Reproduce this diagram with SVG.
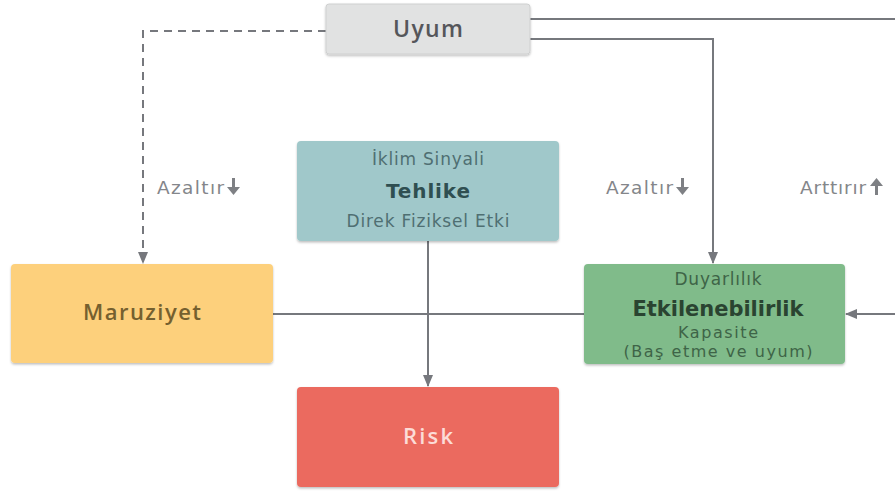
<svg xmlns="http://www.w3.org/2000/svg" width="895" height="492" viewBox="0 0 895 492">
<style>
.t{font-family:"DejaVu Sans","Open Sans",sans-serif;text-anchor:middle}
.s{font-family:"Open Sans","DejaVu Sans",sans-serif;text-anchor:middle;font-weight:600}
.lbl{font-family:"DejaVu Sans","Open Sans",sans-serif;font-size:18.5px;fill:#84868a;font-weight:400}
.ln{fill:none;stroke:#76787d;stroke-width:2}
</style>
<defs>
<filter id="sh" x="-5%" y="-5%" width="110%" height="115%">
<feDropShadow dx="0" dy="1.5" stdDeviation="1.2" flood-color="#000" flood-opacity="0.25"/>
</filter>
<marker id="ah" markerWidth="12" markerHeight="10" refX="11" refY="5" orient="auto" markerUnits="userSpaceOnUse">
<path d="M0,0 L12,5 L0,10 Z" fill="#76787d"/>
</marker>
</defs>
<rect width="895" height="492" fill="#ffffff"/>
<g id="connectors">
<path class="ln" d="M530,19 H895"/>
<path class="ln" d="M530,39 H713 V263" marker-end="url(#ah)"/>
<path class="ln" d="M326,31 H143 V263" stroke-dasharray="8,6" marker-end="url(#ah)"/>
<path class="ln" d="M428,241 V386" marker-end="url(#ah)"/>
<path class="ln" d="M273,314 H584"/>
<path class="ln" d="M895,314 H846" marker-end="url(#ah)"/>
</g>
<g id="labels">
<text class="lbl" x="157" y="194" textLength="67">Azaltır</text>
<path d="M232,178 h3 v9 h5 l-6.5,8 l-6.5,-8 h5 z" fill="#7e8084"/>
<text class="lbl" x="606" y="194" textLength="67">Azaltır</text>
<path d="M681,178 h3 v9 h5 l-6.5,8 l-6.5,-8 h5 z" fill="#7e8084"/>
<text class="lbl" x="800" y="194" textLength="66">Arttırır</text>
<path d="M875,195 h3 v-9 h5 l-6.5,-8 l-6.5,8 h5 z" fill="#7e8084"/>
</g>
<g id="uyum">
<rect x="326" y="4" width="204" height="50" rx="3" fill="#e1e2e2" stroke="#cfd0d0" stroke-width="1" filter="url(#sh)"/>
<text class="s" x="428" y="37" font-size="23" fill="#55565a" textLength="70">Uyum</text>
</g>
<g id="tehlike">
<rect x="297" y="141" width="262" height="100" rx="4" fill="#a0c8ca" filter="url(#sh)"/>
<text class="t" x="428" y="165" font-size="17" fill="#4f6f72" textLength="112">İklim Sinyali</text>
<text class="t" x="428" y="198" font-size="20" font-weight="700" fill="#2f4f51" textLength="84">Tehlike</text>
<text class="t" x="428" y="227" font-size="17" fill="#4f6f72" textLength="163">Direk Fiziksel Etki</text>
</g>
<g id="maruziyet">
<rect x="11" y="264" width="262" height="99" rx="4" fill="#fdd07c" filter="url(#sh)"/>
<text class="s" x="142" y="320" font-size="22" fill="#75602f" textLength="118">Maruziyet</text>
</g>
<g id="etkilenebilirlik">
<rect x="584" y="264" width="261" height="100" rx="4" fill="#80bb8a" filter="url(#sh)"/>
<text class="t" x="718" y="285" font-size="17" fill="#3e6447" textLength="87">Duyarlılık</text>
<text class="t" x="718" y="316" font-size="21" font-weight="700" fill="#2a4431" textLength="171">Etkilenebilirlik</text>
<text class="t" x="718" y="338" font-size="16" fill="#3e6447" textLength="80">Kapasite</text>
<text class="t" x="718" y="357" font-size="16" fill="#3e6447" textLength="189">(Baş etme ve uyum)</text>
</g>
<g id="risk">
<rect x="297" y="387" width="262" height="100" rx="4" fill="#eb6a5e" filter="url(#sh)"/>
<text class="s" x="428" y="444" font-size="22" fill="#fcdcd7" textLength="50">Risk</text>
</g>
</svg>
